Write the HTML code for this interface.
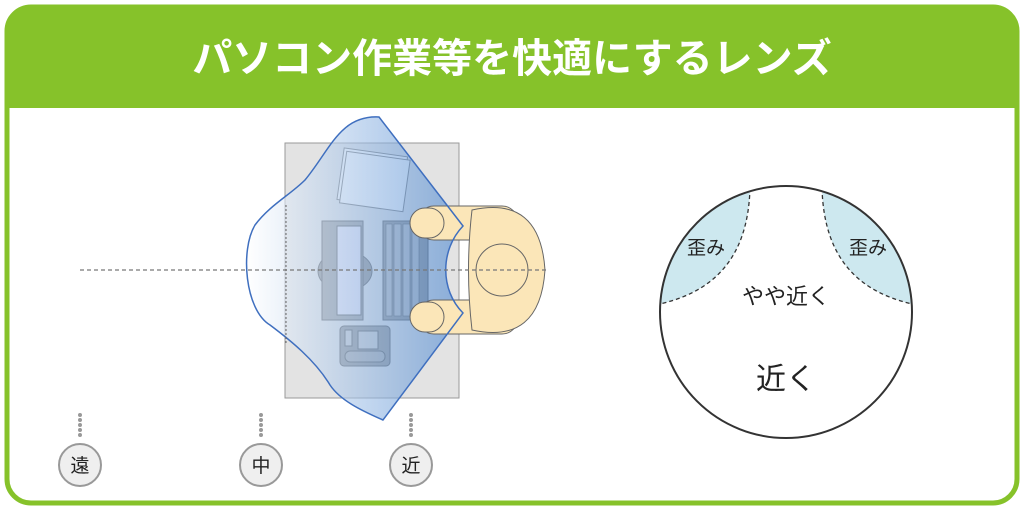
<!DOCTYPE html>
<html><head><meta charset="utf-8"><style>
html,body{margin:0;padding:0;background:#fff;}
body{width:1024px;height:512px;overflow:hidden;font-family:"Liberation Sans","Noto Sans CJK JP",sans-serif;}
</style></head><body>
<svg width="1024" height="512" viewBox="0 0 1024 512" xmlns="http://www.w3.org/2000/svg" font-family="Liberation Sans, Noto Sans CJK JP, sans-serif">
<defs>
<linearGradient id="bg" x1="0" x2="1" y1="0" y2="0">
<stop offset="0" stop-color="#ffffff" stop-opacity="0.6"/>
<stop offset="1" stop-color="#4a86d0" stop-opacity="0.6"/>
</linearGradient>
<clipPath id="cc"><circle cx="786" cy="312" r="126"/></clipPath>
</defs>
<rect x="7" y="7" width="1010" height="496" rx="24" fill="#fff" stroke="#86c22a" stroke-width="5"/>
<path d="M7,31 a24,24 0 0 1 24,-24 h962 a24,24 0 0 1 24,24 V108 H7 Z" fill="#86c22a"/>
<text x="512" y="72" text-anchor="middle" font-size="40" font-weight="bold" fill="#fff">パソコン作業等を快適にするレンズ</text>

<rect x="285" y="143" width="174" height="255" fill="#e3e3e3" stroke="#999" stroke-width="1"/>
<g transform="rotate(8 371 180)">
<rect x="340" y="152" width="64" height="52" fill="#fff" stroke="#777"/>
<rect x="343" y="155" width="64" height="52" fill="#fff" stroke="#777"/>
</g>
<ellipse cx="345" cy="271" rx="27" ry="20" fill="#8a8a8a" stroke="#555"/>
<rect x="322" y="221" width="41" height="99" fill="#9a9a9a" stroke="#555"/>
<rect x="337" y="226" width="24" height="89" fill="#ebe9f7" stroke="#555"/>
<rect x="383" y="221" width="45" height="99" fill="#8f8f8f" stroke="#555"/>
<g fill="#bdbdbd" stroke="#555" stroke-width="0.6">
<rect x="386" y="224" width="6" height="92"/>
<rect x="394" y="224" width="7" height="92"/>
<rect x="403" y="224" width="7" height="92"/>
<rect x="412" y="224" width="7" height="92"/>
</g>
<rect x="340" y="326" width="50" height="40" rx="4" fill="#8f8f8f" stroke="#555"/>
<rect x="345" y="330" width="7" height="16" fill="#ccc" stroke="#555"/>
<rect x="358" y="331" width="20" height="18" fill="#ccc" stroke="#555"/>
<rect x="345" y="351" width="40" height="11" rx="5" fill="#aaa" stroke="#555"/>
<path id="vz" d="M379,117 L463,226 C440,250 440,290 463,313 L383,420 C360,410 340,400 330,385 C315,360 290,340 270,325 C245,310 240,250 255,225 C270,205 290,195 305,180 C330,150 340,115 379,117 Z" fill="url(#bg)"/>
<!-- person -->
<rect x="418" y="206" width="100" height="34" rx="16" fill="#fbe6b8" stroke="#666"/>
<rect x="418" y="300" width="100" height="34" rx="16" fill="#fbe6b8" stroke="#666"/>
<rect x="410" y="208" width="34" height="30" rx="15" fill="#fbe6b8" stroke="#666"/>
<rect x="410" y="302" width="34" height="30" rx="15" fill="#fbe6b8" stroke="#666"/>
<path d="M472,210 Q540,195 545,270 Q540,345 472,330 Q465,270 472,210 Z" fill="#fbe6b8" stroke="#666"/>
<circle cx="502" cy="270" r="26" fill="#fbe6b8" stroke="#666"/>
<path d="M379,117 L463,226 C440,250 440,290 463,313 L383,420 C360,410 340,400 330,385 C315,360 290,340 270,325 C245,310 240,250 255,225 C270,205 290,195 305,180 C330,150 340,115 379,117 Z" fill="none" stroke="#3f6fbf" stroke-width="1.5"/>
<line x1="286" y1="205" x2="286" y2="345" stroke="#666" stroke-width="1" stroke-dasharray="2,2"/>
<line x1="80" y1="270" x2="548" y2="270" stroke="#777" stroke-width="1.2" stroke-dasharray="4,3"/>

<g fill="#999">
<circle cx="80" cy="415" r="2"/><circle cx="80" cy="420" r="2"/><circle cx="80" cy="425" r="2"/><circle cx="80" cy="430" r="2"/><circle cx="80" cy="435" r="2"/>
<circle cx="261" cy="415" r="2"/><circle cx="261" cy="420" r="2"/><circle cx="261" cy="425" r="2"/><circle cx="261" cy="430" r="2"/><circle cx="261" cy="435" r="2"/>
<circle cx="411" cy="415" r="2"/><circle cx="411" cy="420" r="2"/><circle cx="411" cy="425" r="2"/><circle cx="411" cy="430" r="2"/><circle cx="411" cy="435" r="2"/>
</g>
<g fill="#efefef" stroke="#999" stroke-width="2">
<circle cx="80" cy="465" r="21"/><circle cx="261" cy="465" r="21"/><circle cx="411" cy="465" r="21"/>
</g>
<g font-size="19" text-anchor="middle" fill="#222">
<text x="80" y="472">遠</text><text x="261" y="472">中</text><text x="411" y="472">近</text>
</g>

<circle cx="786" cy="312" r="126" fill="#fff"/>
<g clip-path="url(#cc)">
<path d="M750,180 L750,188 C748,260 712,295 650,306 L640,306 L640,180 Z" fill="#cde8ef"/>
<path d="M822,180 L822,188 C824,260 860,295 922,306 L932,306 L932,180 Z" fill="#cde8ef"/>
<path d="M750,188 C748,260 712,295 650,306" fill="none" stroke="#333" stroke-width="1.3" stroke-dasharray="4,3"/>
<path d="M822,188 C824,260 860,295 922,306" fill="none" stroke="#333" stroke-width="1.3" stroke-dasharray="4,3"/>
</g>
<circle cx="786" cy="312" r="126" fill="none" stroke="#333" stroke-width="2"/>
<g fill="#222" text-anchor="middle">
<text x="706" y="254" font-size="19">歪み</text>
<text x="868" y="254" font-size="19">歪み</text>
<text x="786" y="304" font-size="22">やや近く</text>
<text x="786" y="389" font-size="30">近く</text>
</g>
</svg>
</body></html>
